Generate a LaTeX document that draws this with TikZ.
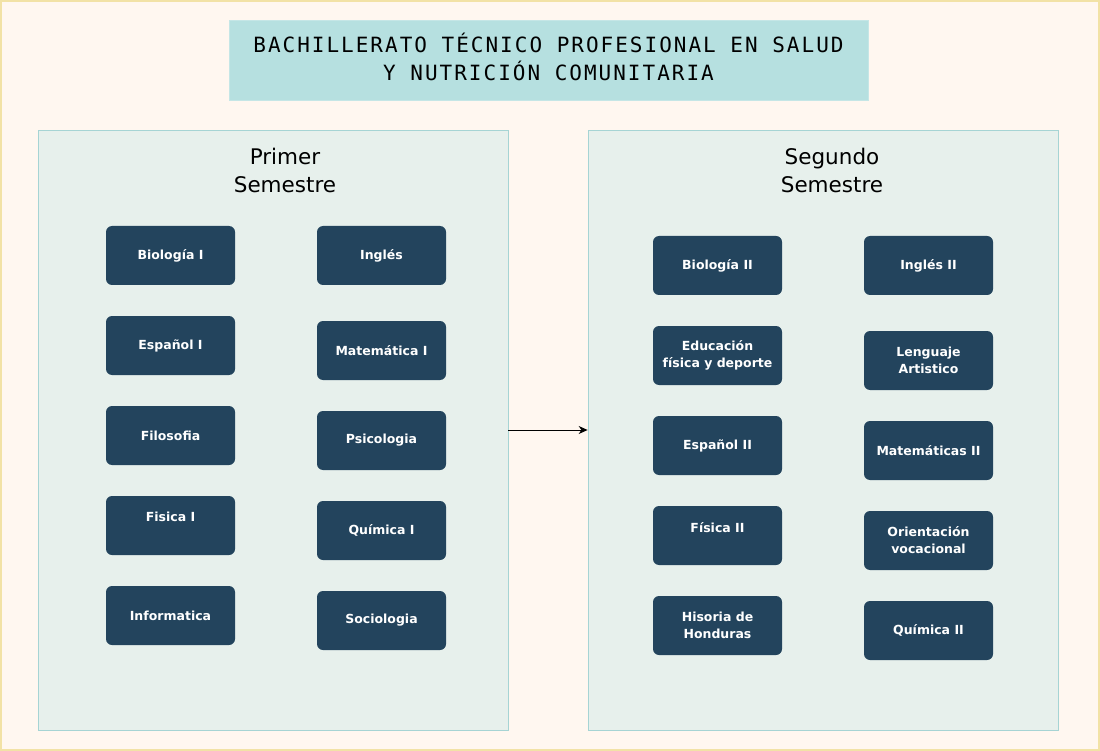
\documentclass[tikz,border=0pt]{standalone}
\usepackage{fontspec}
\setmainfont{DejaVu Sans}
\newfontfamily\boxfont{DejaVu Sans}
\newfontfamily\titlefont[LetterSpace=9.5]{DejaVu Sans Mono}
\usetikzlibrary{arrows.meta}

\definecolor{paper}{HTML}{FFF7F0}
\definecolor{paperline}{HTML}{F2E2A6}
\definecolor{titlefill}{HTML}{B6E0E0}
\definecolor{panelfill}{HTML}{E7F0EC}
\definecolor{panelline}{HTML}{A6D4D4}
\definecolor{subjfill}{HTML}{23445D}

\begin{document}
\begin{tikzpicture}[x=1pt, y=-1pt,
    titlebox/.style={fill=titlefill, draw=titlefill!80!white, minimum width=639pt, minimum height=80pt},
    titletext/.style={align=center, font=\titlefont\fontsize{21}{28}\selectfont},
    panel/.style={fill=panelfill, draw=panelline, line width=0.8pt, minimum width=470pt, minimum height=600pt},
    heading/.style={align=center, font=\fontsize{21.5}{28}\selectfont},
    subject/.style={fill=subjfill, rounded corners=6pt, minimum width=129pt, minimum height=59pt,
      align=center, text=white, font=\boxfont\bfseries\fontsize{12.5}{17}\selectfont}]
    \useasboundingbox (0,0) rectangle (1100,751);
    \draw [fill=paper, draw=paperline, line width=2pt] (1,1) rectangle (1099,750);

    % title
    \node (title) at (548.5,60) [titlebox] {};
    \node (titletxt) at (548.5,57) [titletext] {BACHILLERATO TÉCNICO PROFESIONAL EN SALUD\\Y NUTRICIÓN COMUNITARIA};

    % first semester
    \node (sem1) at (273,430) [panel] {};
    \node (sem1title) at (285,170) [heading] {Primer\\Semestre};
    \node (bio1) at (170.5,255.5) [subject] {Biología I};
    \node (esp1) at (170.5,345.5) [subject] {Español I};
    \node (filo) at (170.5,435.5) [subject] {Filosofia};
    \node (fis1) at (170.5,525.5) [subject] {Fisica I\\[0pt]~};
    \node (info) at (170.5,615.5) [subject] {Informatica};
    \node (ing1) at (381.5,255.5) [subject] {Inglés};
    \node (mat1) at (381.5,350.5) [subject] {Matemática I};
    \node (psic) at (381.5,440.5) [subject] {Psicologia};
    \node (qui1) at (381.5,530.5) [subject] {Química I};
    \node (soci) at (381.5,620.5) [subject] {Sociologia};

    % second semester
    \node (sem2) at (823,430) [panel] {};
    \node (sem2title) at (832,170) [heading] {Segundo\\Semestre};
    \node (bio2) at (717.5,265.5) [subject] {Biología II};
    \node (edfi) at (717.5,355.5) [subject] {Educación\\física y deporte};
    \node (esp2) at (717.5,445.5) [subject] {Español II};
    \node (fis2) at (717.5,535.5) [subject] {Física II\\[0pt]~};
    \node (hist) at (717.5,625.5) [subject] {Hisoria de\\Honduras};
    \node (ing2) at (928.5,265.5) [subject] {Inglés II};
    \node (leng) at (928.5,360.5) [subject] {Lenguaje\\Artistico};
    \node (mat2) at (928.5,450.5) [subject] {Matemáticas II};
    \node (orie) at (928.5,540.5) [subject] {Orientación\\vocacional};
    \node (qui2) at (928.5,630.5) [subject] {Química II};

    \draw [-{Stealth[length=9pt,width=8pt]}, line width=0.8pt] (sem1.east) -- (sem2.west);
\end{tikzpicture}
\end{document}
